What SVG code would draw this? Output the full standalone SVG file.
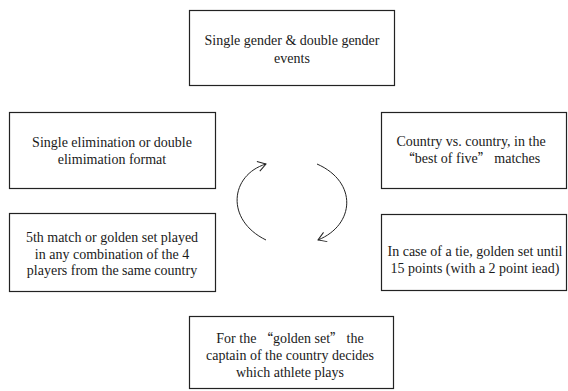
<svg xmlns="http://www.w3.org/2000/svg" width="568" height="391" viewBox="0 0 568 391">
<style>
.box{fill:#fff;stroke:#222;stroke-width:1.2}
.t{font-family:"Liberation Serif","DejaVu Serif",serif;font-size:14px;fill:#1a1a1a;text-anchor:middle}
.q{font-family:"Noto Sans CJK SC",sans-serif;font-size:13px}
.arc{fill:none;stroke:#222;stroke-width:1}
</style>
<defs>
<marker id="ah" markerWidth="12" markerHeight="12" refX="10" refY="6" orient="auto" markerUnits="userSpaceOnUse">
<polyline points="2,1 10,6 2,11" fill="none" stroke="#222" stroke-width="1"/>
</marker>
</defs>
<rect width="568" height="391" fill="#fff"/>
<g id="n1">
<rect class="box" x="189.5" y="10.5" width="205" height="75"/>
<text class="t" x="292" y="45">Single gender &amp; double gender</text>
<text class="t" x="292" y="63">events</text>
</g>
<g id="n2">
<rect class="box" x="9.5" y="112.5" width="206" height="76"/>
<text class="t" x="112" y="147">Single elimination or double</text>
<text class="t" x="112" y="164">elimimation format</text>
</g>
<g id="n3">
<rect class="box" x="381.5" y="112.5" width="185" height="76"/>
<text class="t" x="471" y="146">Country vs. country, in the</text>
<text class="t" x="471" y="163"><tspan class="q">“</tspan>best of five<tspan class="q">”</tspan> matches</text>
</g>
<g id="n4">
<rect class="box" x="9.5" y="213.5" width="206" height="78"/>
<text class="t" x="112" y="242">5th match or golden set played</text>
<text class="t" x="112" y="258.5">in any combination of the 4</text>
<text class="t" x="112" y="275">players from the same country</text>
</g>
<g id="n5">
<rect class="box" x="381.5" y="214.5" width="185" height="76"/>
<text class="t" x="475" y="256">In case of a tie, golden set until</text>
<text class="t" x="475" y="273">15 points (with a 2 point iead)</text>
</g>
<g id="n6">
<rect class="box" x="189.5" y="316.5" width="204" height="72"/>
<text class="t" x="290" y="343">For the <tspan class="q">“</tspan>golden set<tspan class="q">”</tspan> the</text>
<text class="t" x="290" y="360">captain of the country decides</text>
<text class="t" x="290" y="377">which athlete plays</text>
</g>
<g id="connectors">
<path class="arc" d="M266,240 C225,220 230,175 266,164" marker-end="url(#ah)"/>
<path class="arc" d="M317,164 C358,182 355,225 318,240" marker-end="url(#ah)"/>
</g>
</svg>
